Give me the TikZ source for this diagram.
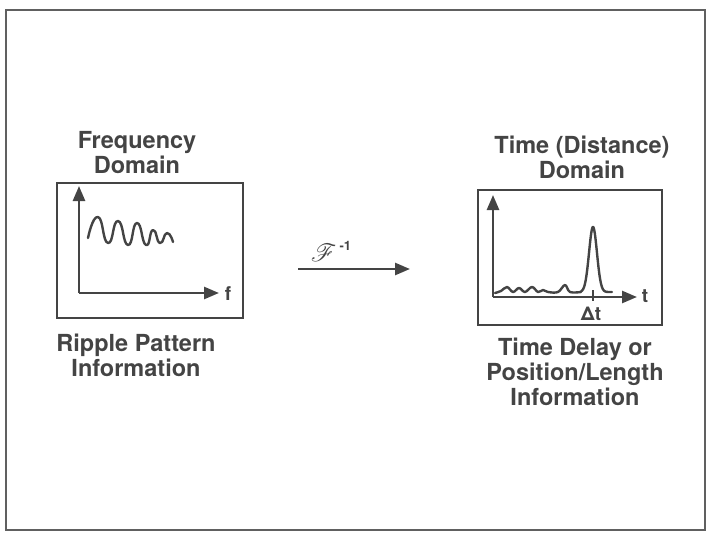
\documentclass[tikz,border=0pt]{standalone}
\usepackage{fontspec}
\setmainfont{TeX Gyre Heros}
\usepackage{mathrsfs}
\usetikzlibrary{arrows.meta}
\definecolor{ink}{HTML}{444444}
\begin{document}
\begin{tikzpicture}[x=1pt,y=-1pt,
  lbl/.style={font=\fontsize{23.5}{25}\selectfont\bfseries, text=ink, align=center, inner sep=0pt},
  small/.style={font=\fontsize{19}{20}\selectfont\bfseries, text=ink, inner sep=0pt},
  frame/.style={draw=ink, line width=2.6pt},
  axis/.style={draw=ink, line width=2.6pt, -{Triangle[length=15pt,width=12pt]}},
  wave/.style={draw=ink, line width=2.4pt, line join=round, line cap=round}]
\useasboundingbox (0,0) rectangle (707,533);
% outer frame
\draw[draw=ink!85, line width=2.4pt] (6,10) rectangle (705,530);

% left panel
\node[frame, minimum width=186pt, minimum height=135pt, inner sep=0pt] (lbox) at (150,250.5) {};
\coordinate (lo) at (79,293);
\coordinate (ly) at (79,186);
\coordinate (lx) at (219,293);
\draw[axis] (lo) -- (ly);
\draw[axis] (lo) -- (lx);
\node[small] (fl) at (228,294) {f};
\draw[wave] plot[smooth, tension=1] coordinates {(88,238) (98,217)
  (108,243) (118,221) (128,245) (137,223) (146,245) (153,230) (160,243) (167,233) (173,242)};
\node[lbl] (freq) at (137,153) {Frequency\\Domain};
\node[lbl] (ripple) at (136,355) {Ripple Pattern\\Information};

% transform arrow
\coordinate (as) at (298,269);
\coordinate (ae) at (410,269);
\draw[axis] (as) -- (ae);
\node[text=ink, inner sep=0pt] (finv) at (331,251)
  {\fontsize{33}{34}\selectfont$\mathscr{F}$\hspace{3pt}\raisebox{11pt}{\fontsize{13}{13}\selectfont\bfseries -1}};

% right panel
\node[frame, minimum width=184pt, minimum height=135pt, inner sep=0pt] (rbox) at (570,257.5) {};
\coordinate (ro) at (493,297);
\coordinate (ry) at (493,195);
\coordinate (rx) at (637,297);
\draw[axis] (ro) -- (ry);
\draw[axis] (ro) -- (rx);
\node[small] (tl) at (645,296) {t};
\draw[wave] plot[smooth, tension=0.6] coordinates {(495,293) (501,291) (507,287) (513,292)
  (519,288) (525,292) (532,287) (538,292) (543,290) (548,292) (558,292) (565,285) (570,292) (581,292)};
\draw[wave] plot[domain=581:612, samples=120, smooth]
  (\x, {292 - 65*exp(-min(((\x-593)/5.6)^2, 9))});
\coordinate (tk1) at (593,290);
\coordinate (tk2) at (593,301);
\draw[ink, line width=1.4pt] (tk1) -- (tk2);
\node[small] (dt) at (591,314) {Δt};
\node[lbl] (time) at (582,157) {Time (Distance)\\Domain};
\node[lbl] (delay) at (575,372) {Time Delay or\\Position/Length\\Information};
\end{tikzpicture}
\end{document}
